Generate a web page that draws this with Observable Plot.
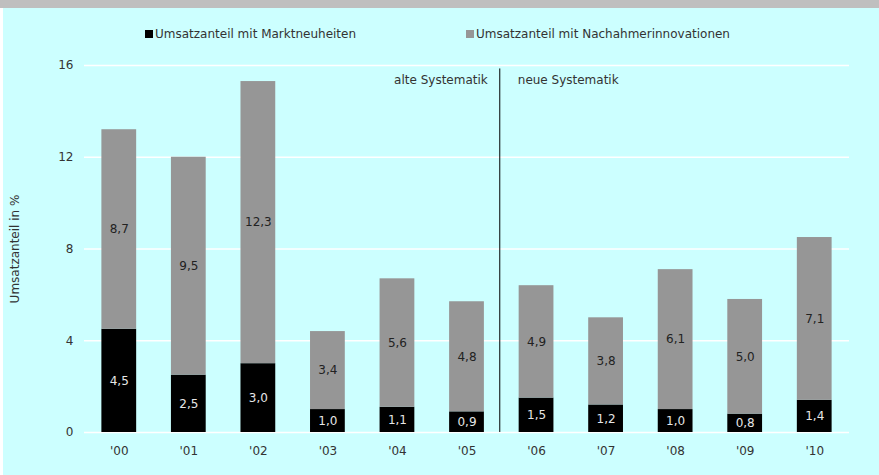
<!DOCTYPE html>
<html><head><meta charset="utf-8">
<script src="https://cdn.jsdelivr.net/npm/d3@7"></script>
<script src="https://cdn.jsdelivr.net/npm/@observablehq/plot@0.6"></script>
<style>
body{margin:0;background:#fff;font-family:"DejaVu Sans",sans-serif;}
#wrap{position:relative;width:879px;height:475px;overflow:hidden;background:#fff;}
#band{position:absolute;left:0;top:0;width:879px;height:8px;background:#bfbfbf;}
#panel{position:absolute;left:3px;top:8px;width:876px;height:467px;background:#ccffff;}
.leg{position:absolute;top:18px;font-size:12px;color:#333;line-height:16px;white-space:nowrap;}
.leg span.sw{display:inline-block;width:8px;height:8px;margin-right:2px;vertical-align:0px;}
#chart{position:absolute;left:0;top:37px;}
</style>
</head><body>
<div id="wrap">
  <div id="band"></div>
  <div id="panel">
    <div class="leg" style="left:142px"><span class="sw" style="background:#000"></span>Umsatzanteil mit Marktneuheiten</div>
    <div class="leg" style="left:463px"><span class="sw" style="background:#969696"></span>Umsatzanteil mit Nachahmerinnovationen</div>
    <div id="chart"></div>
  </div>
</div>
<script>
const years = ["'00","'01","'02","'03","'04","'05","'06","'07","'08","'09","'10"];
const marktneuheiten = [4.5,2.5,3.0,1.0,1.1,0.9,1.5,1.2,1.0,0.8,1.4];
const nachahmer = [8.7,9.5,12.3,3.4,5.6,4.8,4.9,3.8,6.1,5.0,7.1];
const seriesNames = ["Umsatzanteil mit Marktneuheiten","Umsatzanteil mit Nachahmerinnovationen"];
const yTicks = [0,4,8,12,16];
const breakAfter = "'05";
const annotations = ["alte Systematik","neue Systematik"];

const data = [];
years.forEach((y,i)=>{
  data.push({year:y, series:seriesNames[0], value:marktneuheiten[i]});
  data.push({year:y, series:seriesNames[1], value:nachahmer[i]});
});
const loc = d3.formatLocale({decimal:",",thousands:".",grouping:[3],currency:["","€"]});
const fmt = loc.format(".1f");

const width = 876, height = 430;
const mL = 81, mR = 30, mT = 20, mB = 43;
const step = (width - mL - mR) / years.length;

const plot = Plot.plot({
  width, height,
  marginLeft: mL, marginRight: mR, marginTop: mT, marginBottom: mB,
  style: {background:"transparent", fontFamily:"DejaVu Sans, sans-serif", fontSize:"12px", color:"#333"},
  x: {domain: years, paddingInner: 0.5, paddingOuter: 0.25, round: false, label: null},
  y: {domain: [0,16], ticks: yTicks, label: "Umsatzanteil in %"},
  color: {domain: seriesNames, range: ["#000000","#969696"]},
  marks: [
    Plot.gridY(yTicks, {stroke:"#fff", strokeOpacity:1, strokeWidth:1.5}),
    Plot.axisY({ticks: yTicks, tickSize:0, tickPadding:11, label:"Umsatzanteil in %", labelAnchor:"center", labelArrow:"none", labelOffset:74, fill:"#333"}),
    Plot.axisX({tickSize:0, tickPadding:14, label:null, fill:"#333"}),
    Plot.barY(data, Plot.stackY({x:"year", y:"value", fill:"series", order: seriesNames})),
    Plot.textY(data, Plot.stackY({x:"year", y:"value", order: seriesNames, text: d=>fmt(d.value),
      fill: d => d.series===seriesNames[0] ? "#e6e6e6" : "#222"})),
    Plot.ruleX([breakAfter], {x: d=>d, dx: step/2 - 2, y1: 0, y2: 15.85, stroke:"#000", strokeWidth:1}),
    Plot.text([annotations[0]], {x: ()=>breakAfter, y: ()=>15.35, dx: step/2 - 14, textAnchor:"end", fill:"#333"}),
    Plot.text([annotations[1]], {x: ()=>breakAfter, y: ()=>15.35, dx: step/2 + 16, textAnchor:"start", fill:"#333"})
  ]
});
document.getElementById("chart").appendChild(plot);
</script>
</body></html>
